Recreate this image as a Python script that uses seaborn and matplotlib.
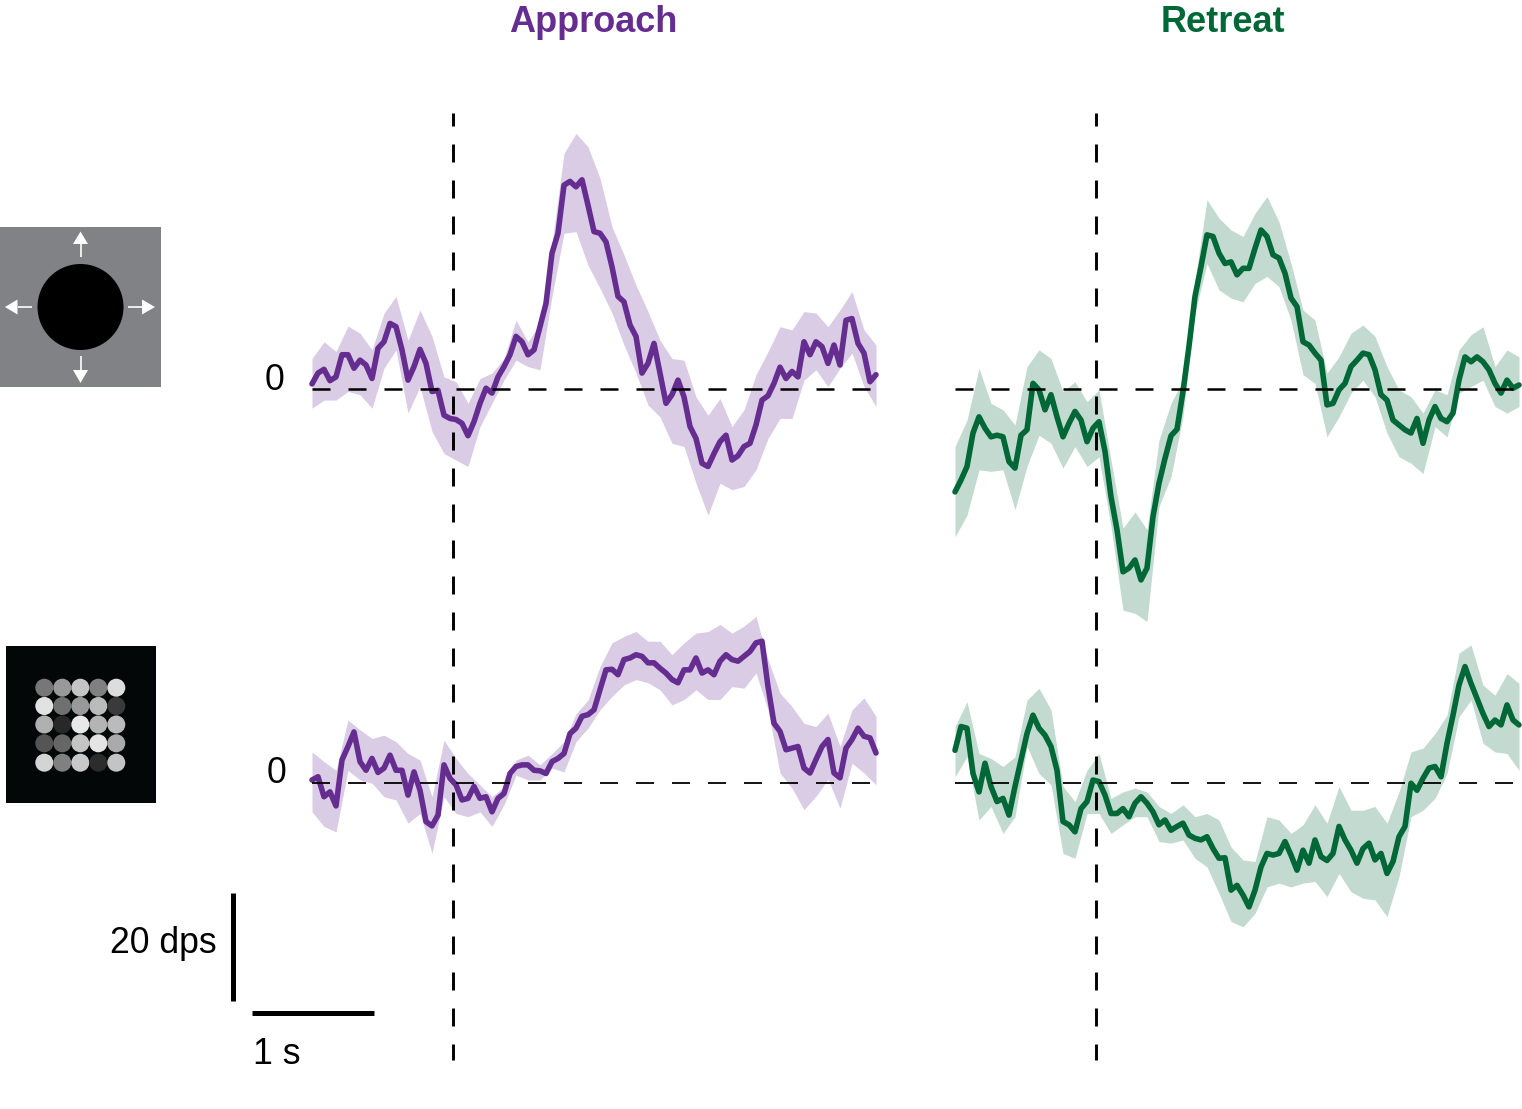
#approach / retreat traces, mean with shaded band, two stimulus icons on the left
import numpy as np
import matplotlib
matplotlib.use("Agg")
import matplotlib.pyplot as plt
from matplotlib.patches import Circle, Polygon, Rectangle
import seaborn as sns

WIDTH_PX = 1522
HEIGHT_PX = 1109
PX_PER_S = 122
PX_PER_DPS = 5.4

# sample grids (s from stimulus onset)
START_S = -141 / PX_PER_S
trace_time = START_S + np.arange(95) * 6 / PX_PER_S
band_time = START_S + np.arange(48) * 12 / PX_PER_S

# dark stimulus, eye velocity in dps
approach_dark_mean = [
    1.0, 3.0, 3.7, 1.6, 2.3, 6.4, 6.4, 3.9, 5.4, 4.5, 2.0, 7.6, 8.8, 12.2, 11.6, 7.3, 1.7, 4.2, 7.4, 4.8,
    -0.4, -0.2, -4.8, -5.4, -5.6, -6.3, -8.6, -6.0, -2.6, 0.2, -0.7, 2.3, 4.2, 6.4, 9.8, 8.8, 6.4, 7.3, 11.6, 15.9,
    25.2, 28.9, 37.8, 38.5, 37.5, 38.8, 34.1, 29.2, 28.9, 27.3, 22.7, 17.2, 16.2, 11.9, 9.8, 3.0, 4.8, 8.5, 3.0, -2.6,
    -1.0, 1.7, -1.4, -6.9, -9.1, -13.7, -14.3, -11.9, -9.7, -8.5, -13.1, -12.3, -10.6, -10.0, -6.6, -2.0, -1.2, 1.1, 4.1, 2.0,
    3.3, 2.3, 8.8, 6.4, 8.8, 7.9, 4.8, 8.2, 4.5, 12.8, 13.1, 8.5, 6.7, 1.4, 2.7,
]
approach_dark_upper = [
    5.7, 8.8, 7.0, 11.7, 10.4, 7.3, 14.1, 17.2, 9.1, 14.7, 9.8, 2.3, 1.4, -2.6, 2.0, 3.0,
    5.7, 12.8, 8.8, 12.2, 27.0, 43.7, 47.4, 44.9, 39.1, 30.1, 24.9, 19.3, 14.4, 9.1, 5.7, 5.4,
    -1.4, -4.8, -1.7, -6.9, -3.8, 2.7, 7.0, 11.6, 11.0, 14.4, 14.1, 11.6, 14.7, 18.1, 11.0, 8.2,
]
approach_dark_lower = [
    -3.5, -2.0, -2.0, -0.4, -1.0, -3.5, 3.9, 7.3, -4.4, 0.5, -7.8, -11.9, -13.1, -14.3, -6.9, -2.6,
    1.7, 5.4, 4.2, 3.6, 17.2, 28.9, 29.2, 23.0, 18.7, 14.1, 8.2, 3.0, -2.9, -5.1, -10.0, -10.6,
    -17.4, -23.3, -17.4, -18.6, -18.0, -14.9, -9.1, -5.4, -5.4, 1.7, 3.6, 0.5, 3.9, 6.7, 0.5, -3.2,
]
retreat_dark_mean = [
    -19.0, -16.8, -14.3, -8.1, -5.1, -7.2, -8.8, -8.5, -8.8, -13.4, -14.6, -8.5, -7.5, 1.1, -0.1, -3.8, -1.0, -5.1, -8.8, -6.3,
    -4.1, -5.7, -9.7, -7.2, -6.0, -11.5, -19.9, -26.0, -33.8, -33.1, -31.6, -35.3, -33.1, -23.6, -17.4, -12.8, -8.6, -7.4, -0.4, 8.0,
    17.2, 22.7, 28.6, 28.3, 25.2, 23.3, 23.6, 21.2, 22.4, 22.4, 26.1, 29.5, 28.3, 24.9, 24.3, 21.5, 16.9, 15.3, 8.8, 8.2,
    6.7, 5.4, -2.9, -2.6, -0.1, 1.1, 4.2, 5.4, 6.7, 6.4, 3.6, -1.0, -2.0, -5.7, -6.6, -7.5, -8.1, -5.4, -10.0, -5.7,
    -3.2, -5.4, -6.0, -4.4, 1.7, 6.0, 5.1, 6.0, 5.1, 3.6, 1.1, -0.7, 1.7, 0.2, 0.8,
]
retreat_dark_upper = [
    -10.6, -5.7, 3.9, -2.6, -3.8, -6.6, 4.2, 7.3, 5.7, -0.4, 1.4, -2.3, -0.1, -13.1, -25.7, -22.7,
    -26.0, -9.4, -2.6, 1.7, 20.2, 35.1, 31.7, 29.5, 28.3, 32.6, 35.7, 31.0, 23.3, 14.7, 12.8, 3.0,
    6.0, 10.4, 11.9, 9.8, 4.2, -0.1, -1.4, -4.4, -0.1, -1.0, 7.3, 10.1, 11.6, 4.2, 7.3, 6.0,
]
retreat_dark_lower = [
    -27.3, -23.3, -14.9, -15.2, -14.9, -22.3, -14.3, -8.5, -10.0, -14.6, -10.6, -14.3, -12.5, -25.4, -40.9, -41.5,
    -43.0, -21.7, -16.2, -5.0, 14.1, 23.3, 18.4, 16.9, 16.2, 19.6, 20.9, 19.0, 12.8, 2.7, 1.1, -8.8,
    -5.1, -0.7, 1.7, -1.4, -8.1, -12.5, -13.7, -15.6, -6.9, -8.8, -0.7, 0.5, 1.7, -3.2, -4.4, -3.2,
]

# pattern stimulus
approach_grid_mean = [
    0.5, 1.1, -2.6, -1.7, -4.3, 4.2, 6.7, 9.4, 3.9, 2.3, 4.5, 1.9, 2.7, 5.1, 2.3, 2.3, -2.3, 2.0, -1.4, -7.2,
    -8.0, -6.0, 3.3, 0.8, -0.4, -3.2, -2.9, -0.7, -2.9, -2.6, -5.4, -2.9, -2.0, 1.7, 3.0, 3.3, 3.3, 2.3, 2.2, 1.7,
    3.9, 4.5, 5.4, 9.1, 10.1, 12.3, 12.6, 13.5, 17.2, 20.9, 21.0, 20.0, 22.8, 23.1, 23.7, 23.4, 22.2, 22.2, 21.2, 20.3,
    19.1, 18.5, 20.9, 20.9, 23.1, 20.3, 20.9, 20.0, 22.5, 23.7, 22.8, 22.5, 23.4, 24.3, 25.9, 26.2, 17.8, 11.0, 9.5, 6.1,
    6.4, 6.7, 2.7, 1.8, 4.3, 6.7, 8.0, 1.8, 0.9, 6.4, 8.0, 10.1, 8.6, 8.3, 5.5,
]
approach_grid_upper = [
    5.7, 3.9, 2.3, 11.6, 9.8, 8.2, 8.8, 7.6, 5.4, 4.2, -2.6, 7.9, 4.5, 1.7, -0.4, -2.6,
    -0.7, 4.2, 5.1, 3.3, 5.4, 7.6, 12.8, 15.3, 21.5, 25.9, 27.1, 28.0, 26.2, 26.2, 23.7, 25.9,
    27.7, 28.0, 29.3, 27.7, 29.0, 30.8, 22.8, 16.6, 14.1, 11.0, 10.4, 12.9, 6.7, 13.5, 15.7, 12.3,
]
approach_grid_lower = [
    -5.4, -8.1, -9.1, 2.3, 0.5, -0.1, -2.6, -3.2, -7.5, -5.7, -13.1, -2.6, -5.7, -6.3, -5.4, -8.1,
    -4.1, 1.4, 0.5, 0.5, 2.7, 2.0, 7.6, 10.1, 13.5, 16.0, 18.1, 19.1, 18.5, 17.2, 14.4, 15.4,
    17.2, 15.4, 15.4, 17.8, 17.5, 20.3, 13.5, 1.8, -1.0, -5.0, -2.5, 0.6, -4.7, 3.6, 1.8, -0.4,
]
retreat_grid_mean = [
    6.0, 10.4, 10.1, 1.7, -1.7, 3.6, -0.7, -3.5, -2.9, -6.0, -0.7, 4.2, 9.1, 12.5, 10.1, 8.8, 6.7, 2.3, -7.2, -7.8,
    -9.1, -4.8, -3.5, 0.5, 0.2, -2.3, -5.7, -5.7, -4.8, -6.3, -3.8, -2.6, -3.8, -5.4, -7.8, -6.9, -8.8, -8.1, -7.5, -9.7,
    -10.3, -10.6, -10.0, -12.2, -14.0, -13.9, -19.9, -19.0, -20.8, -23.0, -19.9, -15.6, -13.1, -13.4, -13.1, -10.9, -13.4, -16.2, -12.5, -14.9,
    -10.6, -13.7, -14.4, -13.1, -8.1, -10.6, -12.5, -14.9, -12.2, -11.2, -14.3, -13.1, -16.8, -14.6, -10.0, -8.1, -0.1, -1.4, 0.8, 2.7,
    3.0, 1.1, 7.3, 12.5, 18.1, 21.5, 18.4, 15.6, 12.8, 10.4, 11.6, 10.7, 14.4, 11.6, 10.7,
]
retreat_grid_upper = [
    10.4, 15.0, 5.4, 4.5, 3.0, 4.8, 15.3, 17.5, 13.5, -0.7, -3.5, 2.3, 5.4, -2.9, -1.7, -1.0,
    -1.7, -4.4, -5.7, -4.1, -6.3, -5.7, -6.9, -11.9, -14.3, -14.6, -6.3, -6.9, -9.4, -7.8, -4.1, -7.5,
    -0.7, -5.1, -5.1, -4.4, -7.5, -1.7, 5.7, 6.4, 9.1, 12.5, 24.0, 25.5, 18.1, 16.2, 20.2, 18.4,
]
retreat_grid_lower = [
    1.1, 4.8, -6.9, -4.4, -9.4, -6.3, 6.7, 1.7, -0.4, -13.1, -14.0, -5.7, -5.7, -9.4, -7.8, -6.3,
    -6.3, -10.9, -11.2, -10.6, -14.0, -15.6, -20.5, -25.7, -26.7, -24.2, -19.3, -18.6, -19.3, -18.6, -18.3, -21.1,
    -16.8, -20.2, -21.4, -21.7, -24.8, -17.4, -6.3, -5.1, -2.9, 1.7, 12.2, 15.3, 7.3, 5.7, 5.4, 2.3,
]

# gray levels of the 5 x 5 dot pattern
dot_grays = [
    ["#777777", "#999999", "#c4c4c4", "#808080", "#dddddd"],
    ["#e2e2e2", "#707070", "#999999", "#bbbbbb", "#3a3a3a"],
    ["#b0b0b0", "#282828", "#e8e8e8", "#b4b4b4", "#bbbbbb"],
    ["#555555", "#666666", "#c4c4c4", "#e4e4e4", "#aaaaaa"],
    ["#d4d4d4", "#808080", "#c8c8c8", "#2c2c2c", "#c4c4c4"],
]

column_titles = ["Approach", "Retreat"]
PURPLE = "#662d91"
GREEN = "#006837"
SCALE_DPS = 20
SCALE_S = 1

sns.set_theme(style="white")
plt.rcParams["font.family"] = ["Liberation Sans", "DejaVu Sans"]
plt.rcParams["lines.scale_dashes"] = False
plt.rcParams["lines.solid_joinstyle"] = "round"

fig = plt.figure(figsize=(WIDTH_PX / 100, HEIGHT_PX / 100), dpi=100)


def add_panel(onset_px, zero_px, mean, upper, lower, color, zero_width):
    left_s, right_s = -1.5, 3.5
    bottom_dps, top_dps = -60, 60
    ax = fig.add_axes([
        (onset_px + left_s * PX_PER_S) / WIDTH_PX,
        1 - (zero_px - bottom_dps * PX_PER_DPS) / HEIGHT_PX,
        (right_s - left_s) * PX_PER_S / WIDTH_PX,
        (top_dps - bottom_dps) * PX_PER_DPS / HEIGHT_PX,
    ])
    ax.fill_between(band_time, lower, upper, color=color, alpha=0.24, linewidth=0)
    sns.lineplot(x=trace_time, y=mean, color=color, linewidth=4.0, errorbar=None, ax=ax)
    ax.plot([trace_time[0], trace_time[-1]], [0, 0], color="black", lw=zero_width,
            ls=(0, (12.96, 12.96)), dash_capstyle="butt")
    ax.set_xlim(left_s, right_s)
    ax.set_ylim(bottom_dps, top_dps)
    ax.axis("off")
    return ax


add_panel(453, 389.3, approach_dark_mean, approach_dark_upper, approach_dark_lower, PURPLE, 1.8)
add_panel(1096, 389.3, retreat_dark_mean, retreat_dark_upper, retreat_dark_lower, GREEN, 1.8)
add_panel(453, 782.7, approach_grid_mean, approach_grid_upper, approach_grid_lower, PURPLE, 1.3)
add_panel(1096, 782.7, retreat_grid_mean, retreat_grid_upper, retreat_grid_lower, GREEN, 1.3)

# pixel overlay for annotations
over = fig.add_axes([0, 0, 1, 1], facecolor="none")
over.set_xlim(0, WIDTH_PX)
over.set_ylim(HEIGHT_PX, 0)
over.axis("off")

for onset_px in [453, 1096]:
    over.plot([onset_px, onset_px], [113, 1060], color="black", lw=2.1,
              ls=(3.6, (12.96, 12.96)), dash_capstyle="butt")

over.text(593, 32, column_titles[0], color=PURPLE, fontsize=26, fontweight="bold", ha="center", va="baseline")
over.text(1222.5, 32, column_titles[1], color=GREEN, fontsize=26, fontweight="bold", ha="center", va="baseline")
over.text(275, 390, "0", color="black", fontsize=25.7, ha="center", va="baseline")
over.text(276, 783, "0", color="black", fontsize=25.7, ha="center", va="baseline")
over.text(216.5, 953, f"{SCALE_DPS} dps", color="black", fontsize=25.7, ha="right", va="baseline")
over.text(253, 1064, f"{SCALE_S} s", color="black", fontsize=25.7, ha="left", va="baseline")

# scale bars
over.plot([233, 233], [893, 893 + SCALE_DPS * PX_PER_DPS], color="black", lw=3.6, solid_capstyle="butt")
over.plot([251.5, 251.5 + SCALE_S * PX_PER_S], [1012.5, 1012.5], color="black", lw=3.6, solid_capstyle="butt")

# looming disc icon
over.add_patch(Rectangle((0, 227), 160.5, 160, color="#808285", lw=0))
over.add_patch(Circle((80.5, 307), 43, color="black", lw=0))


def icon_arrow(tail, base, tip):
    over.plot([tail[0], base[0]], [tail[1], base[1]], color="white", lw=1.2, solid_capstyle="butt")
    dx, dy = np.sign(tip[0] - base[0]), np.sign(tip[1] - base[1])
    wing = 7.5
    over.add_patch(Polygon([tip, (base[0] + dy * wing, base[1] + dx * wing),
                            (base[0] - dy * wing, base[1] - dx * wing)], color="white", lw=0))


icon_arrow((80.5, 257), (80.5, 244), (80.5, 231.5))
icon_arrow((80.5, 356), (80.5, 370), (80.5, 383))
icon_arrow((32, 307), (17.5, 307), (5, 307))
icon_arrow((128, 307), (142, 307), (155, 307))

# dot pattern icon
over.add_patch(Rectangle((6, 646), 149.5, 157, color="#030708", lw=0))
dot_x = [44.3, 62.3, 80.3, 98.3, 116.3]
dot_y = [687.7, 706, 724.5, 743.3, 762.7]
for row, y in zip(dot_grays, dot_y):
    for gray, x in zip(row, dot_x):
        over.add_patch(Circle((x, y), 9, color=gray, lw=0))

fig.savefig("out.png", dpi=100)
plt.close(fig)
